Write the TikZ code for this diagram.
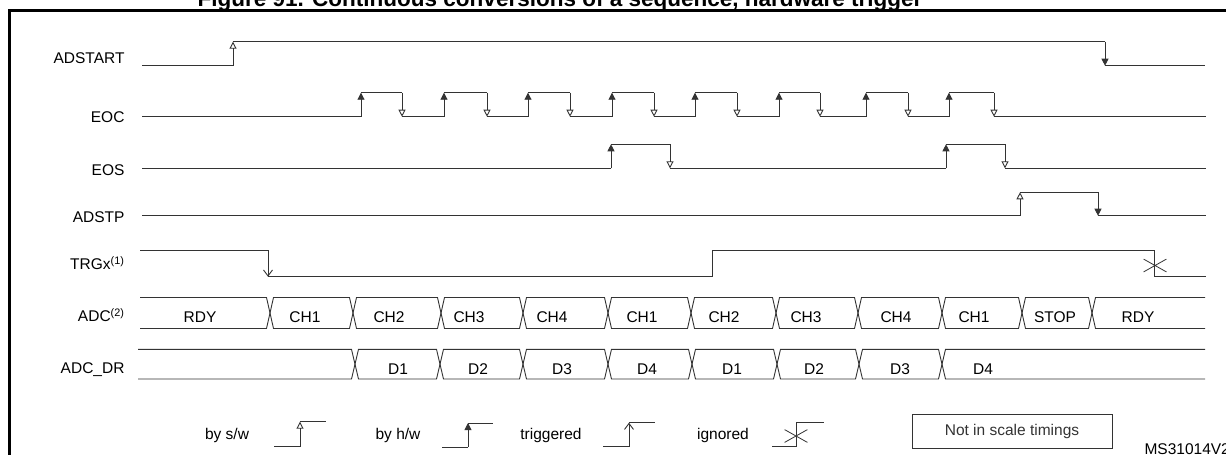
\documentclass[tikz,border=0pt]{standalone}
\usepackage{fontspec}
\setmainfont{Liberation Sans}
\usetikzlibrary{arrows.meta, shapes.misc}

\begin{document}
\begin{tikzpicture}[
        x=1pt, y=-1pt,
        sig/.style={line width=0.9pt, black!80},
        swedge/.style={sig, -{Triangle[open, length=7pt, width=7pt]}},
        hwedge/.style={sig, -{Triangle[length=7pt, width=7pt]}},
        trigedge/.style={sig, -{Straight Barb[length=6pt, width=9pt]}},
        ignmark/.style={draw, black!80, line width=0.8pt, cross out, minimum width=22pt, minimum height=12pt, inner sep=0pt},
        lbl/.style={anchor=base east, font=\fontsize{15.5}{18}\selectfont},
        txt/.style={anchor=base, font=\fontsize{15.5}{18}\selectfont}
    ]
        \useasboundingbox (0,0) rectangle (1226,455);

        % ================= MARCO =================
        \node[anchor=base, font=\bfseries\fontsize{22.5}{26}\selectfont] (title) at (560,6.5)
            {Figure 91. Continuous conversions of a sequence, hardware trigger};
        \draw[line width=2.6pt] (9.7,470) -- (9.7,10.5) -- (1240,10.5);

        % ================= NOMBRES DE SENALES =================
        \node[lbl] (nstart) at (128,63.3) {ADSTART};
        \node[lbl] (neoc) at (128,122.3) {EOC};
        \node[lbl] (neos) at (128,175) {EOS};
        \node[lbl] (nstp) at (128,222.7) {ADSTP};
        \node[lbl] (ntrg) at (128,269.3) {TRGx\textsuperscript{(1)}};
        \node[lbl] (nadc) at (128,321.7) {ADC\textsuperscript{(2)}};
        \node[lbl] (ndr) at (128,373.3) {ADC\_DR};

        % ================= ADSTART =================
        \draw[sig] (142,65.7) -- (233,65.7);
        \draw[swedge] (233,65.7) -- (233,41.7);
        \draw[sig] (233,41.7) -- (1105,41.7);
        \draw[hwedge] (1105,41.7) -- (1105,65.7);
        \draw[sig] (1105,65.7) -- (1205,65.7);

        % ================= EOC =================
        \draw[sig] (142,116.7) -- (361,116.7);
        \foreach \r/\f/\n in {361/402/444, 444/487/528, 528/570/612, 612/654/695,
                              695/737/779, 779/820/866, 866/908/949, 949/994/1206}{
            \draw[hwedge] (\r,116.7) -- (\r,92.7);
            \draw[sig] (\r,92.7) -- (\f,92.7);
            \draw[swedge] (\f,92.7) -- (\f,116.7);
            \draw[sig] (\f,116.7) -- (\n,116.7);
        }

        % ================= EOS =================
        \draw[sig] (142,168.3) -- (611,168.3);
        \foreach \r/\f/\n in {611/670/946, 946/1005/1206}{
            \draw[hwedge] (\r,168.3) -- (\r,144.3);
            \draw[sig] (\r,144.3) -- (\f,144.3);
            \draw[swedge] (\f,144.3) -- (\f,168.3);
            \draw[sig] (\f,168.3) -- (\n,168.3);
        }

        % ================= ADSTP =================
        \draw[sig] (142,215.7) -- (1020,215.7);
        \draw[swedge] (1020,215.7) -- (1020,192.3);
        \draw[sig] (1020,192.3) -- (1098,192.3);
        \draw[hwedge] (1098,192.3) -- (1098,215.7);
        \draw[sig] (1098,215.7) -- (1206,215.7);

        % ================= TRGx =================
        \draw[sig] (140,250) -- (268,250);
        \draw[trigedge] (268,250) -- (268,276.7);
        \draw[sig] (268,276.7) -- (712,276.7) -- (712,250) -- (1154,250) -- (1154,276.7) -- (1206,276.7);
        \node[ignmark] (ign1) at (1155,265.5) {};

        % ================= ADC =================
        \draw[sig] (140,297.5) -- (266.5,297.5) -- (270,313) -- (266.5,328.5) -- (140,328.5);
        \foreach \s/\e in {270/353, 353/441, 441/523, 523/608, 608/691,
                           691/776, 776/858, 858/942, 942/1022, 1022/1092}
            \draw[sig] (\s,313) -- (\s+3.5,297.5) -- (\e-3.5,297.5) -- (\e,313)
                -- (\e-3.5,328.5) -- (\s+3.5,328.5) -- cycle;
        \draw[sig] (1205,297.5) -- (1095.5,297.5) -- (1092,313) -- (1095.5,328.5) -- (1205,328.5);
        \foreach \x/\t [count=\i] in {200/RDY, 305/CH1, 389/CH2, 469/CH3, 552/CH4, 642/CH1,
                                      724/CH2, 806/CH3, 896/CH4, 974/CH1, 1055/STOP, 1138/RDY}
            \node[txt] (adc\i) at (\x,322.5) {\t};

        % ================= ADC_DR =================
        \draw[sig] (138,349.3) -- (351.5,349.3) -- (355,364.2) -- (351.5,379) -- (138,379);
        \foreach \s/\e in {355/440, 440/523, 523/608, 608/692, 692/777, 777/859, 859/942}
            \draw[sig] (\s,364.2) -- (\s+3.5,349.3) -- (\e-3.5,349.3) -- (\e,364.2)
                -- (\e-3.5,379) -- (\s+3.5,379) -- cycle;
        \draw[sig] (1205,349.3) -- (945.5,349.3) -- (942,364.2) -- (945.5,379) -- (1205,379);
        \foreach \x/\t [count=\i] in {398/D1, 478/D2, 562/D3, 647/D4, 732/D1, 814/D2, 900/D3, 983/D4}
            \node[txt] (dr\i) at (\x,374) {\t};

        % ================= LEYENDA =================
        \node[txt] (lsw) at (227,439) {by s/w};
        \draw[sig] (274,446.7) -- (300,446.7);
        \draw[swedge] (300,446.7) -- (300,421.7);
        \draw[sig] (300,421.7) -- (326,421.7);

        \node[txt] (lhw) at (398,439) {by h/w};
        \draw[sig] (442,447) -- (468,447);
        \draw[hwedge] (468,447) -- (468,423);
        \draw[sig] (468,423) -- (493,423);

        \node[txt] (ltrig) at (551,439) {triggered};
        \draw[sig] (603,446.7) -- (629,446.7);
        \draw[trigedge] (629,446.7) -- (629,422.7);
        \draw[sig] (629,422.7) -- (655,422.7);

        \node[txt] (lign) at (723,439) {ignored};
        \draw[sig] (772,446.7) -- (796,446.7) -- (796,422.7) -- (824,422.7);
        \node[ignmark] (ign2) at (796,436) {};

        \node[draw, sig, minimum width=200pt, minimum height=34pt, font=\fontsize{15.5}{18}\selectfont]
            (scale) at (1012,431) {Not in scale timings};
        \node[anchor=base west, font=\fontsize{15.5}{18}\selectfont] (ref) at (1141,454) {MS31014V2};

    \end{tikzpicture}
\end{document}
